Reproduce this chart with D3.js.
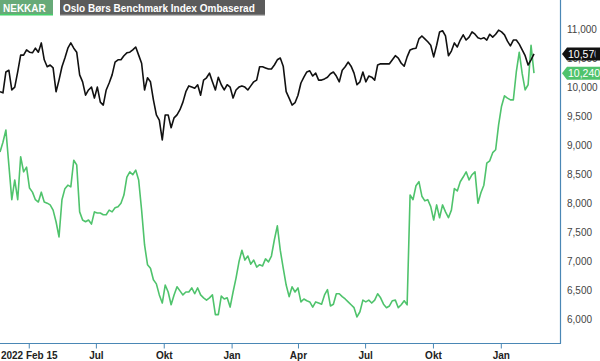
<!DOCTYPE html>
<html>
<head>
<meta charset="utf-8">
<script src="https://cdn.jsdelivr.net/npm/d3@7"></script>
<style>
  html, body { margin: 0; padding: 0; background: #fff; }
  svg { display: block; font-family: "Liberation Sans", Arial, sans-serif; }
</style>
</head>
<body>
<svg id="chart" width="600" height="361"></svg>
<script>
// ---- data ----
const startDate = "2022-02-21";
const stepDays = 4;
const seriesNames = ["NEKKAR", "Oslo Børs Benchmark Index Ombaserad"];

const nekkar = [
  8880, 9050, 9260, 8660, 8060, 8400, 8060, 8800, 8540, 8620,
  8260, 8190, 8060, 8020, 8190, 8020, 8000, 7970, 7880, 7680,
  7420, 8060, 8250, 8310, 8280, 8740, 8660, 7850, 7710, 7680,
  7710, 7640, 7850, 7830, 7830, 7800, 7800, 7880, 7850, 7920,
  7940, 8000, 8140, 8450, 8540, 8490, 8570, 8400, 7880, 7280,
  6940, 6880, 6680, 6610, 6420, 6280, 6590, 6470, 6250, 6420,
  6560, 6490, 6420, 6470, 6470, 6540, 6440, 6540, 6420, 6370,
  6330, 6370, 6420, 6080, 6080, 6400, 6350, 6370, 6210, 6470,
  6710, 6990, 7190, 7020, 7090, 6950, 7020, 6900, 6940, 6920,
  7040, 6990, 7090, 7370, 7610, 7190, 6880, 6590, 6390, 6560,
  6470, 6540, 6300, 6350, 6320, 6300, 6210, 6300, 6280, 6260,
  6420, 6510, 6230, 6260, 6440, 6440, 6390, 6350, 6300, 6250,
  6200, 6040, 6130, 6330, 6300, 6330, 6280, 6330, 6440, 6370,
  6260, 6200, 6230, 6320, 6330, 6200, 6250, 6320, 6250, 8140,
  8060, 8300, 8370, 8120, 8040, 8060, 7940, 7710, 7970, 7750,
  7970, 7850, 7750, 7880, 8250, 8210, 8370, 8450, 8540, 8400,
  8490, 8540, 8000, 8180, 8310, 8690, 8730, 8870, 8920, 9350,
  9670, 9850, 9810, 9780, 9780, 10260, 10600, 10230, 9950, 10040,
  10720, 10240
];

const benchmark = [
  9920, 9900, 10260, 10290, 9950, 10000, 10260, 10550, 10550, 10640,
  10600, 10590, 10670, 10600, 10760, 10470, 10350, 10380, 10330, 9920,
  10120, 10350, 10500, 10670, 10760, 10670, 10600, 10210, 10090, 9860,
  9950, 10000, 9810, 10000, 9740, 9690, 9950, 10070, 10210, 10430,
  10470, 10470, 10540, 10590, 10600, 10640, 10690, 10550, 10410, 9950,
  10160, 10090, 9780, 9520, 9430, 9090, 9520, 9520, 9300, 9470,
  9520, 9610, 9740, 9920, 10020, 10000, 9980, 10040, 9860, 10120,
  10160, 10240, 10090, 9950, 10170, 10040, 9950, 10040, 10000, 9810,
  9950, 10000, 10020, 10000, 9950, 10020, 10090, 10120, 10350, 10350,
  10330, 10310, 10310, 10380, 10470, 10500, 10360, 9920, 9810, 9690,
  9730, 9860, 10070, 10170, 10260, 10280, 10190, 10240, 10120, 10120,
  10140, 10170, 10230, 10260, 10190, 10090, 10290, 10350, 10430, 10360,
  10240, 10040, 10090, 10260, 10090, 10190, 10170, 10120, 10380, 10400,
  10400, 10400, 10400, 10470, 10540, 10500, 10410, 10360, 10520, 10640,
  10660, 10670, 10830, 10880, 10830, 10780, 10720, 10520, 10720, 10950,
  10970, 10880, 10540, 10620, 10760, 10690, 10810, 10900, 10810, 10860,
  10950, 10910, 10850, 10830, 10850, 10810, 10910, 10860, 10910, 10980,
  10950, 10900, 10790, 10710, 10810, 10810, 10740, 10640, 10540, 10380,
  10470, 10570
];

const yTickValues = [6000, 6500, 7000, 7500, 8000, 8500, 9000, 9500, 10000, 10500, 11000];
const xTickDates = ["2022-04-01", "2022-07-01", "2022-10-01", "2023-01-01", "2023-04-01", "2023-07-01", "2023-10-01", "2024-01-01"];
const xTickLabels = ["2022 Feb 15", "Jul", "Okt", "Jan", "Apr", "Jul", "Okt", "Jan"];

// ---- chart ----
const parse = d3.timeParse("%Y-%m-%d");
const t0 = parse(startDate);
const dates = nekkar.map((_, i) => d3.timeDay.offset(t0, i * stepDays));
const tEnd = dates[dates.length - 1];

const svg = d3.select("#chart");
const plotRight = 560, plotBottom = 343;
const axisColor = "#4a87b5";
const green = "#4fc36c";

const x = d3.scaleTime().domain([t0, tEnd]).range([0, 534]);
const y = d3.scaleLinear().domain([6000, 11000]).range([319.3, 29]);

// right axis labels
const gy = svg.append("g");
gy.selectAll("text").data(yTickValues).join("text")
  .attr("x", 567).attr("y", d => y(d)).attr("dy", "0.35em")
  .attr("font-size", 10).attr("fill", "#444")
  .text(d => d3.format(",")(d));

// axis lines
svg.append("line").attr("x1", plotRight + 0.5).attr("x2", plotRight + 0.5)
  .attr("y1", 0).attr("y2", plotBottom + 0.5)
  .attr("stroke", axisColor).attr("stroke-width", 1.2);

const xAxis = d3.axisBottom(x)
  .tickValues(xTickDates.map(parse))
  .tickFormat((d, i) => xTickLabels[i])
  .tickSizeInner(5).tickSizeOuter(0).tickPadding(3);
const gx = svg.append("g").attr("transform", `translate(0,${plotBottom + 0.5})`).call(xAxis);
gx.select(".domain").attr("d", `M0,0H${plotRight + 1}`).attr("stroke", axisColor).attr("stroke-width", 1.2);
gx.selectAll(".tick line").attr("stroke", axisColor).attr("stroke-width", 1);
gx.selectAll(".tick text")
  .attr("font-family", "'Liberation Sans', Arial, sans-serif")
  .attr("font-size", 10).attr("font-weight", "bold").attr("fill", "#222");

// lines
svg.append("clipPath").attr("id", "plotclip")
  .append("rect").attr("x", 0).attr("y", 0).attr("width", plotRight).attr("height", plotBottom);

const line = d3.line().x((d, i) => x(dates[i])).y(d => y(d));
const gl = svg.append("g").attr("clip-path", "url(#plotclip)");
gl.append("path").datum(nekkar).attr("d", line)
  .attr("fill", "none").attr("stroke", green).attr("stroke-width", 1.6).attr("stroke-linejoin", "round");
gl.append("path").datum(benchmark).attr("d", line)
  .attr("fill", "none").attr("stroke", "#111").attr("stroke-width", 1.6).attr("stroke-linejoin", "round");

// end labels
svg.append("clipPath").attr("id", "labelclip")
  .append("rect").attr("x", 560).attr("y", 0).attr("width", 35.5).attr("height", 361);
function endLabel(val, bg, txt, clipText) {
  const yy = y(val);
  const g = svg.append("g");
  g.append("path")
    .attr("d", `M562,${yy} L567,${yy - 6.5} L601,${yy - 6.5} L601,${yy + 6.5} L567,${yy + 6.5} Z`)
    .attr("fill", bg);
  const t = g.append("text").attr("x", 568).attr("y", yy).attr("dy", "0.36em")
    .attr("font-size", 10.5).attr("fill", "#fff").text(txt);
  if (clipText) t.attr("clip-path", "url(#labelclip)");
}
endLabel(benchmark[benchmark.length - 1], "#111", d3.format(",")(benchmark[benchmark.length - 1]), true);
endLabel(nekkar[nekkar.length - 1], green, d3.format(",")(nekkar[nekkar.length - 1]), false);

// legend
const leg = svg.append("g");
const legItems = [
  { name: seriesNames[0], bg: "#67aa78", under: "#45d06a", x0: 0, w: 53 },
  { name: seriesNames[1], bg: "#5b5b5b", under: "#777", x0: 60, w: 205 }
];
legItems.forEach(it => {
  leg.append("rect").attr("x", it.x0).attr("y", 0).attr("width", it.w).attr("height", 15).attr("fill", it.bg);
  leg.append("rect").attr("x", it.x0).attr("y", 14).attr("width", it.w).attr("height", 1.5).attr("fill", it.under);
  leg.append("text").attr("x", it.x0 + 3).attr("y", 11.5)
    .attr("font-size", 10).attr("font-weight", "bold").attr("fill", "#fff").text(it.name);
});
</script>
</body>
</html>
